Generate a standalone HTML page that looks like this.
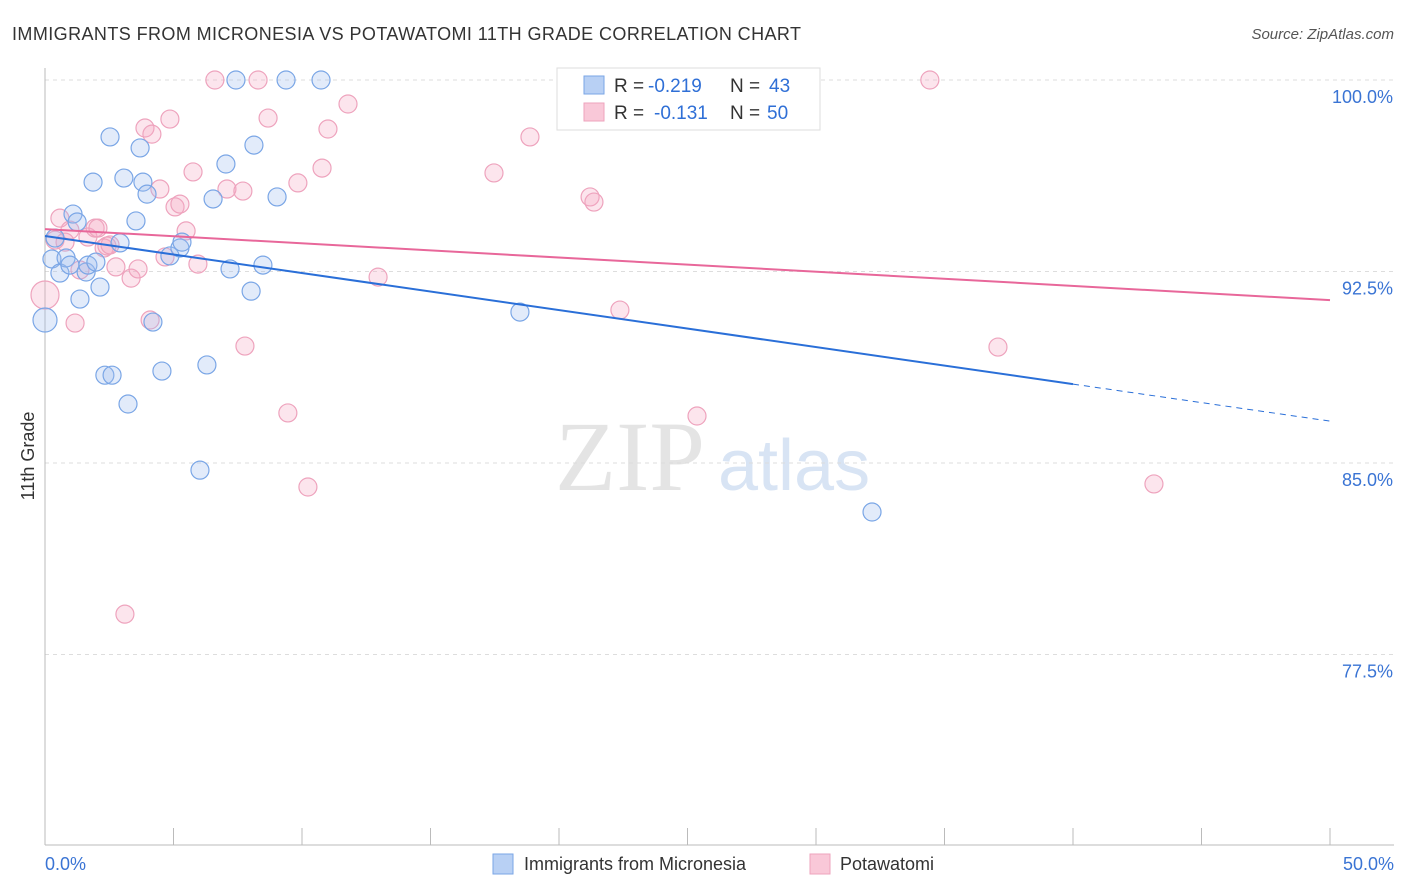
<!DOCTYPE html>
<html><head><meta charset="utf-8"><style>
body{margin:0;background:#fff;font-family:"Liberation Sans",sans-serif;}
#c{position:absolute;left:0;top:0;}
</style></head><body>
<svg id="c" width="1406" height="892" xmlns="http://www.w3.org/2000/svg">
<text x="12" y="40" font-size="18" textLength="789" fill="#333">IMMIGRANTS FROM MICRONESIA VS POTAWATOMI 11TH GRADE CORRELATION CHART</text>
<text x="1394" y="39" font-size="15" fill="#555" text-anchor="end" font-style="italic">Source: ZipAtlas.com</text>
<text x="555" y="490" font-size="100" fill="#e4e4e4" font-family="Liberation Serif,serif">ZIP</text>
<text x="718" y="490" font-size="72" fill="#d8e4f4">atlas</text>
<text transform="translate(34,456) rotate(-90)" font-size="18" fill="#333" text-anchor="middle">11th Grade</text>
<g id="grid"></g><g id="axes"></g><g id="pts"></g><g id="trend"></g>
<g>
<rect x="557" y="68" width="263" height="62" fill="#fff" stroke="#ddd"/>
<rect x="584" y="76" width="20" height="18" fill="#b8d0f4" stroke="#7aa6e6"/>
<rect x="584" y="103" width="20" height="18" fill="#f9c8d8" stroke="#eea3bd"/>
<text x="614" y="92" font-size="19" fill="#333">R =</text>
<text x="648" y="92" font-size="19" fill="#2f6fd6">-0.219</text>
<text x="730" y="92" font-size="19" fill="#333">N =</text>
<text x="769" y="92" font-size="19" fill="#2f6fd6">43</text>
<text x="614" y="119" font-size="19" fill="#333">R =</text>
<text x="654" y="119" font-size="19" fill="#2f6fd6">-0.131</text>
<text x="730" y="119" font-size="19" fill="#333">N =</text>
<text x="767" y="119" font-size="19" fill="#2f6fd6">50</text>
</g>
<g>
<rect x="493" y="854" width="20" height="20" fill="#b8d0f4" stroke="#7aa6e6"/>
<text x="524" y="870" font-size="18" fill="#333">Immigrants from Micronesia</text>
<rect x="810" y="854" width="20" height="20" fill="#f9c8d8" stroke="#eea3bd"/>
<text x="840" y="870" font-size="18" fill="#333">Potawatomi</text>
</g>
</svg>
<script>
const yTicks=[100,92.5,85,77.5];
const yTickLabels=["100.0%","92.5%","85.0%","77.5%"];
const xTickLabels=["0.0%","50.0%"];
const blueX=[0,0.27,0.39,0.58,0.82,0.97,1.09,1.25,1.36,1.60,1.67,1.87,1.98,2.14,2.33,2.53,2.61,2.92,3.07,3.23,3.54,3.70,3.81,3.97,4.20,4.55,4.86,5.25,5.33,6.03,6.30,6.54,7.04,7.20,7.43,8.02,8.13,8.48,9.03,9.38,10.74,18.48,32.18];
const blueY=[90.6,92.99,93.81,92.44,93.03,92.75,94.75,94.44,91.42,92.48,92.75,96.0,92.87,91.89,88.44,97.77,88.44,93.62,96.16,87.31,94.48,97.34,96.0,95.53,90.52,88.6,93.11,93.42,93.65,84.72,88.84,95.34,96.71,92.6,100,91.73,97.45,92.75,95.42,100,100,90.91,83.08];
const pinkX=[0,0.39,0.58,0.78,0.97,1.17,1.36,1.67,1.95,2.06,2.30,2.41,2.53,2.76,3.11,3.35,3.62,3.89,4.09,4.16,4.47,4.67,4.86,5.06,5.25,5.49,5.76,5.95,6.61,7.08,7.70,7.78,8.29,8.68,9.45,9.84,10.23,10.78,11.01,11.79,12.96,17.47,18.87,21.21,21.36,22.37,25.37,34.43,37.08,43.15];
const pinkY=[91.58,93.73,94.59,93.65,94.12,90.48,92.56,93.85,94.2,94.2,93.42,93.5,93.54,92.68,79.08,92.24,92.6,98.12,90.6,97.88,95.73,93.07,98.47,95.03,95.14,94.09,96.4,92.79,100,95.73,95.65,89.58,100,98.51,86.96,95.97,84.06,96.55,98.08,99.06,92.28,96.36,97.77,95.42,95.22,90.99,86.84,100,89.54,84.18];
const blueTrend=[93.89,86.64];
const pinkTrend=[94.16,91.38];
const NS="http://www.w3.org/2000/svg";
const X=v=>45+v/50*1285, Y=v=>80+(100-v)/7.5*191.5;
function mk(p,t,a){const e=document.createElementNS(NS,t);for(const k in a)e.setAttribute(k,a[k]);p.appendChild(e);return e;}
const grid=document.getElementById('grid'),axes=document.getElementById('axes'),pts=document.getElementById('pts'),tr=document.getElementById('trend');
yTicks.forEach((t,i)=>{const l=mk(grid,'line',{x1:45,x2:1394,y1:Y(t),y2:Y(t),stroke:'#ddd','stroke-dasharray':'4,4'});


const tx=mk(grid,'text',{x:1393,y:Y(t)+23,'font-size':18,fill:'#3a74d4','text-anchor':'end'});tx.textContent=yTickLabels[i];

});
mk(axes,'line',{x1:45,x2:45,y1:68,y2:845,stroke:'#bbb'});
mk(axes,'line',{x1:45,x2:1394,y1:845,y2:845,stroke:'#bbb'});
for(let i=0;i<=10;i++){const t=mk(axes,'line',{x1:X(i*5),x2:X(i*5),y1:828,y2:845,stroke:'#bbb'});

}
[[0,'start',45],[50,'end',1394]].forEach((d,i)=>{const tx=mk(axes,'text',{x:d[2],y:870,'font-size':18,fill:'#3a74d4','text-anchor':d[1]});tx.textContent=xTickLabels[i];

});
function draw(xs,ys,fill,stroke,name,big){xs.forEach((x,i)=>{const c=mk(pts,'circle',{cx:X(x),cy:Y(ys[i]),r:(i===0)?big:9,fill:fill,stroke:stroke,'stroke-width':1.2});

});}
draw(pinkX,pinkY,'rgba(245,170,195,0.3)','#eea3bd','potawatomi-point',14);
draw(blueX,blueY,'rgba(160,190,240,0.3)','#7aa6e6','micronesia-point',12);
const by=x=>blueTrend[0]+(blueTrend[1]-blueTrend[0])*x/50;
let l=mk(tr,'line',{x1:X(0),y1:Y(by(0)),x2:X(40),y2:Y(by(40)),stroke:'#2a6fd8','stroke-width':2});


l=mk(tr,'line',{x1:X(40),y1:Y(by(40)),x2:X(50),y2:Y(by(50)),stroke:'#2a6fd8','stroke-width':1,'stroke-dasharray':'6,5'});


l=mk(tr,'line',{x1:X(0),y1:Y(pinkTrend[0]),x2:X(50),y2:Y(pinkTrend[1]),stroke:'#e8679a','stroke-width':2});


</script>
</body></html>
